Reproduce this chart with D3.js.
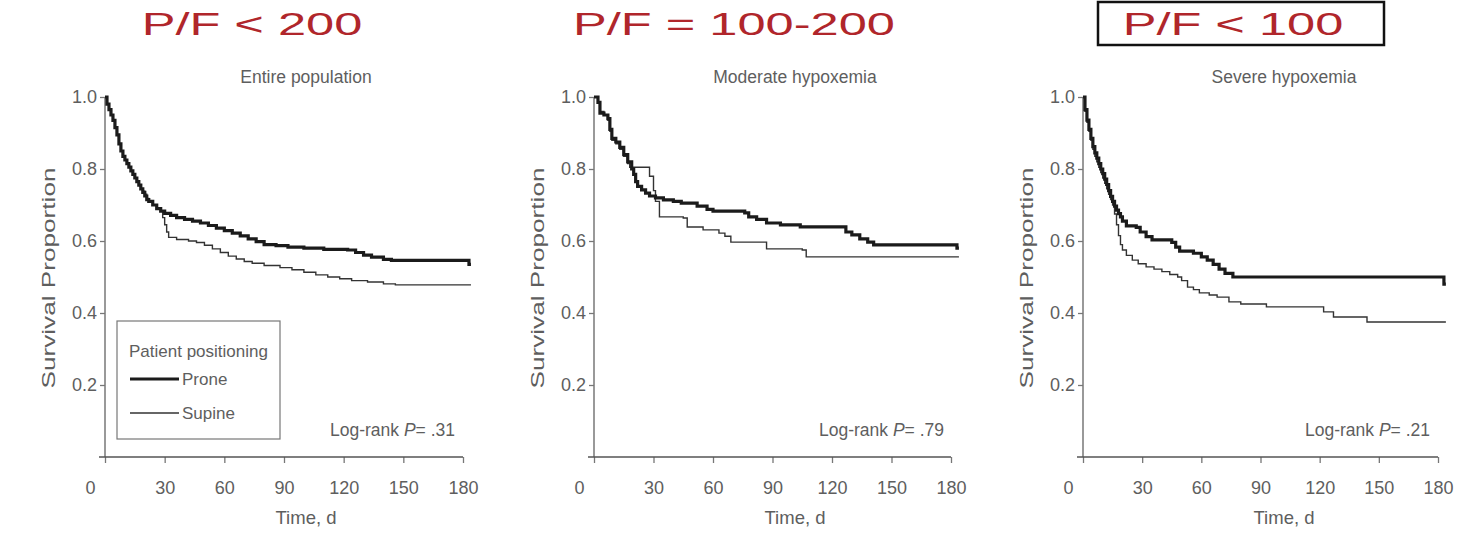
<!DOCTYPE html>
<html><head><meta charset="utf-8">
<script src="https://cdn.jsdelivr.net/npm/d3@7"></script>
<style>
html,body{margin:0;padding:0;background:#fff;}
text{font-family:"Liberation Sans",Arial,sans-serif;}
</style></head>
<body><svg id="c" width="1458" height="534"></svg>
<script>
// ---------- DATA ----------
const groupTitles = ["P/F < 200", "P/F = 100-200", "P/F < 100"];
const panelTitles = ["Entire population", "Moderate hypoxemia", "Severe hypoxemia"];
const logRankP = [".31", ".79", ".21"];
const xTicks = [0, 30, 60, 90, 120, 150, 180];
const yTicks = [0.2, 0.4, 0.6, 0.8, 1.0];
const seriesNames = ["Prone", "Supine"];

// [day, survival proportion]
const entireProne = [[0,1],[1,0.98],[2,0.965],[3,0.95],[4,0.935],[5,0.915],[6,0.895],[7,0.87],[8,0.85],[9,0.835],[10,0.825],[11,0.815],[12,0.805],[13,0.795],[14,0.785],[15,0.775],[16,0.765],[17,0.755],[18,0.745],[19,0.735],[20,0.725],[21,0.715],[22,0.71],[24,0.70],[26,0.69],[28,0.683],[30,0.677],[33,0.671],[36,0.665],[40,0.66],[44,0.655],[48,0.65],[52,0.643],[56,0.636],[60,0.629],[64,0.622],[68,0.614],[72,0.606],[76,0.598],[80,0.59],[86,0.587],[92,0.583],[100,0.58],[110,0.577],[122,0.575],[126,0.568],[130,0.561],[134,0.555],[140,0.549],[144,0.546],[183,0.535],[184,0.535]];
const entireSupine = [[0,1],[1,0.98],[2,0.965],[3,0.95],[4,0.935],[5,0.915],[6,0.895],[7,0.87],[8,0.85],[9,0.835],[10,0.825],[11,0.815],[12,0.805],[13,0.795],[14,0.785],[15,0.775],[16,0.765],[17,0.755],[18,0.745],[19,0.738],[20,0.73],[21,0.718],[22,0.708],[24,0.70],[26,0.69],[28,0.683],[29,0.665],[30,0.645],[31,0.625],[32,0.61],[36,0.604],[42,0.6],[46,0.596],[50,0.588],[54,0.578],[58,0.568],[62,0.558],[66,0.55],[70,0.543],[74,0.538],[80,0.532],[88,0.526],[94,0.52],[100,0.513],[106,0.506],[112,0.5],[118,0.495],[124,0.49],[132,0.486],[140,0.481],[146,0.478],[184,0.478]];
const moderateProne = [[0,1],[2,0.985],[3,0.955],[5,0.95],[7,0.94],[8,0.91],[9,0.885],[11,0.875],[13,0.86],[15,0.84],[17,0.82],[19,0.80],[20,0.785],[21,0.765],[22,0.752],[24,0.742],[26,0.733],[28,0.725],[31,0.72],[35,0.714],[40,0.71],[44,0.705],[52,0.697],[57,0.688],[60,0.683],[76,0.678],[78,0.667],[82,0.66],[87,0.65],[94,0.645],[104,0.639],[125,0.639],[127,0.625],[130,0.617],[134,0.606],[138,0.597],[141,0.589],[183,0.58],[184,0.58]];
const moderateSupine = [[0,1],[2,0.985],[3,0.96],[5,0.95],[7,0.935],[8,0.905],[9,0.88],[11,0.87],[13,0.855],[15,0.835],[17,0.815],[18,0.805],[27,0.805],[28,0.78],[30,0.74],[31,0.71],[33,0.667],[45,0.664],[47,0.639],[55,0.631],[63,0.622],[66,0.613],[69,0.597],[86,0.597],[87,0.578],[105,0.575],[107,0.556],[184,0.556]];
const severeProne = [[0,1],[1,0.965],[2,0.936],[3,0.91],[4,0.885],[5,0.862],[6,0.845],[7,0.83],[8,0.815],[9,0.80],[10,0.787],[11,0.772],[12,0.757],[13,0.74],[14,0.724],[15,0.71],[16,0.697],[17,0.686],[18,0.676],[19,0.667],[20,0.655],[22,0.642],[27,0.638],[29,0.625],[32,0.612],[35,0.603],[45,0.596],[47,0.583],[49,0.572],[56,0.566],[60,0.556],[63,0.547],[66,0.535],[69,0.522],[72,0.51],[76,0.5],[183,0.48],[184,0.48]];
const severeSupine = [[0,1],[1,0.96],[2,0.93],[3,0.905],[4,0.88],[5,0.855],[6,0.835],[7,0.82],[8,0.805],[9,0.79],[10,0.775],[11,0.76],[12,0.745],[13,0.73],[14,0.715],[15,0.70],[16,0.675],[17,0.645],[18,0.615],[19,0.59],[20,0.575],[22,0.56],[25,0.547],[28,0.537],[32,0.528],[36,0.522],[40,0.515],[44,0.507],[48,0.5],[50,0.49],[53,0.472],[56,0.465],[59,0.456],[64,0.45],[68,0.444],[74,0.431],[80,0.425],[93,0.417],[121,0.417],[122,0.403],[127,0.389],[143,0.389],[144,0.375],[184,0.375]];

const proneSeries = [entireProne, moderateProne, severeProne];
const supineSeries = [entireSupine, moderateSupine, severeSupine];

// ---------- LAYOUT ----------
const svg = d3.select("#c");
const panels = [
  {x0:105, w:358, titleX:252},
  {x0:594, w:357, titleX:734},
  {x0:1083, w:355, titleX:1233}
];
const yTop = 97, yBot = 457;
const txt = "#5e5e5e", axisCol = "#777";
const red = "#b0262b";

panels.forEach((p, i) => {
  const g = svg.append("g");
  const x = d3.scaleLinear().domain([0,180]).range([p.x0, p.x0 + p.w]);
  const y = d3.scaleLinear().domain([0,1]).range([yBot, yTop]);

  // group title (red)
  const gt = g.append("text").attr("x", p.titleX).attr("y", 35)
    .attr("text-anchor","middle").attr("font-size",32).attr("fill",red)
    .text(groupTitles[i]);
  const natural = gt.node().getComputedTextLength();
  gt.attr("textLength", natural*1.58).attr("lengthAdjust","spacingAndGlyphs");

  // panel title
  g.append("text").attr("x", p.x0 + 201).attr("y", 83).attr("text-anchor","middle")
    .attr("font-size",17.5).attr("fill",txt).text(panelTitles[i]);

  // y axis
  const yAx = g.append("g").attr("transform",`translate(${p.x0},0)`)
    .call(d3.axisLeft(y).tickValues(yTicks).tickFormat(d3.format(".1f")).tickSize(5).tickPadding(3));
  yAx.select(".domain").remove();
  yAx.selectAll(".tick line").attr("stroke",axisCol).attr("stroke-width",1.3);
  yAx.selectAll(".tick text").attr("font-size",18).attr("fill",txt).attr("font-family",null);
  g.append("line").attr("x1",p.x0).attr("x2",p.x0).attr("y1",y(1)).attr("y2",yBot)
    .attr("stroke",axisCol).attr("stroke-width",1.5);

  // x axis
  const xAx = g.append("g").attr("transform",`translate(0,${yBot})`)
    .call(d3.axisBottom(x).tickValues(xTicks).tickSize(6).tickPadding(18));
  xAx.select(".domain").remove();
  xAx.selectAll(".tick line").attr("stroke",axisCol).attr("stroke-width",1.3);
  xAx.selectAll(".tick text").attr("font-size",18).attr("fill",txt).attr("font-family",null)
    .attr("dx", d => d === 0 ? -15 : 0);
  g.append("line").attr("x1",p.x0-6).attr("x2",x(180)).attr("y1",yBot).attr("y2",yBot)
    .attr("stroke","#555").attr("stroke-width",1.6);

  // axis labels
  g.append("text").attr("x", p.x0 + 201).attr("y", 524).attr("text-anchor","middle")
    .attr("font-size",18.5).attr("fill",txt).text("Time, d");
  g.append("text").attr("transform",`translate(${p.x0-50},278) rotate(-90)`)
    .attr("text-anchor","middle").attr("font-size",19).attr("fill",txt)
    .attr("textLength",221).attr("lengthAdjust","spacingAndGlyphs")
    .text("Survival Proportion");

  // curves
  const line = d3.line().x(d => x(d[0])).y(d => y(d[1])).curve(d3.curveStepAfter);
  g.append("path").datum(supineSeries[i]).attr("d",line).attr("fill","none")
    .attr("stroke","#333").attr("stroke-width",1.4);
  g.append("path").datum(proneSeries[i]).attr("d",line).attr("fill","none")
    .attr("stroke","#1b1b1b").attr("stroke-width",3.2);

  // log-rank
  const lr = g.append("text").attr("x", p.x0 + (i===2?347:350)).attr("y", 436)
    .attr("text-anchor","end").attr("font-size",17.5).attr("fill",txt);
  lr.append("tspan").text("Log-rank ");
  lr.append("tspan").attr("font-style","italic").text("P");
  lr.append("tspan").text("= " + logRankP[i]);

  // legend in first panel
  if (i === 0) {
    const lg = g.append("g");
    lg.append("rect").attr("x",117).attr("y",321).attr("width",163).attr("height",118)
      .attr("fill","#fff").attr("stroke",axisCol).attr("stroke-width",1.2);
    lg.append("text").attr("x",129).attr("y",357).attr("font-size",17).attr("fill",txt)
      .text("Patient positioning");
    const rows = [{n:seriesNames[0], w:3.2, c:"#1b1b1b", y:379},{n:seriesNames[1], w:1.4, c:"#333", y:413}];
    rows.forEach(r => {
      lg.append("line").attr("x1",130).attr("x2",179).attr("y1",r.y).attr("y2",r.y)
        .attr("stroke",r.c).attr("stroke-width",r.w);
      lg.append("text").attr("x",182).attr("y",r.y+6).attr("font-size",17).attr("fill",txt).text(r.n);
    });
  }
});

// box around third group title
svg.append("rect").attr("x",1098).attr("y",2).attr("width",286).attr("height",43)
  .attr("fill","none").attr("stroke","#111").attr("stroke-width",2.5);
</script>
</body></html>
